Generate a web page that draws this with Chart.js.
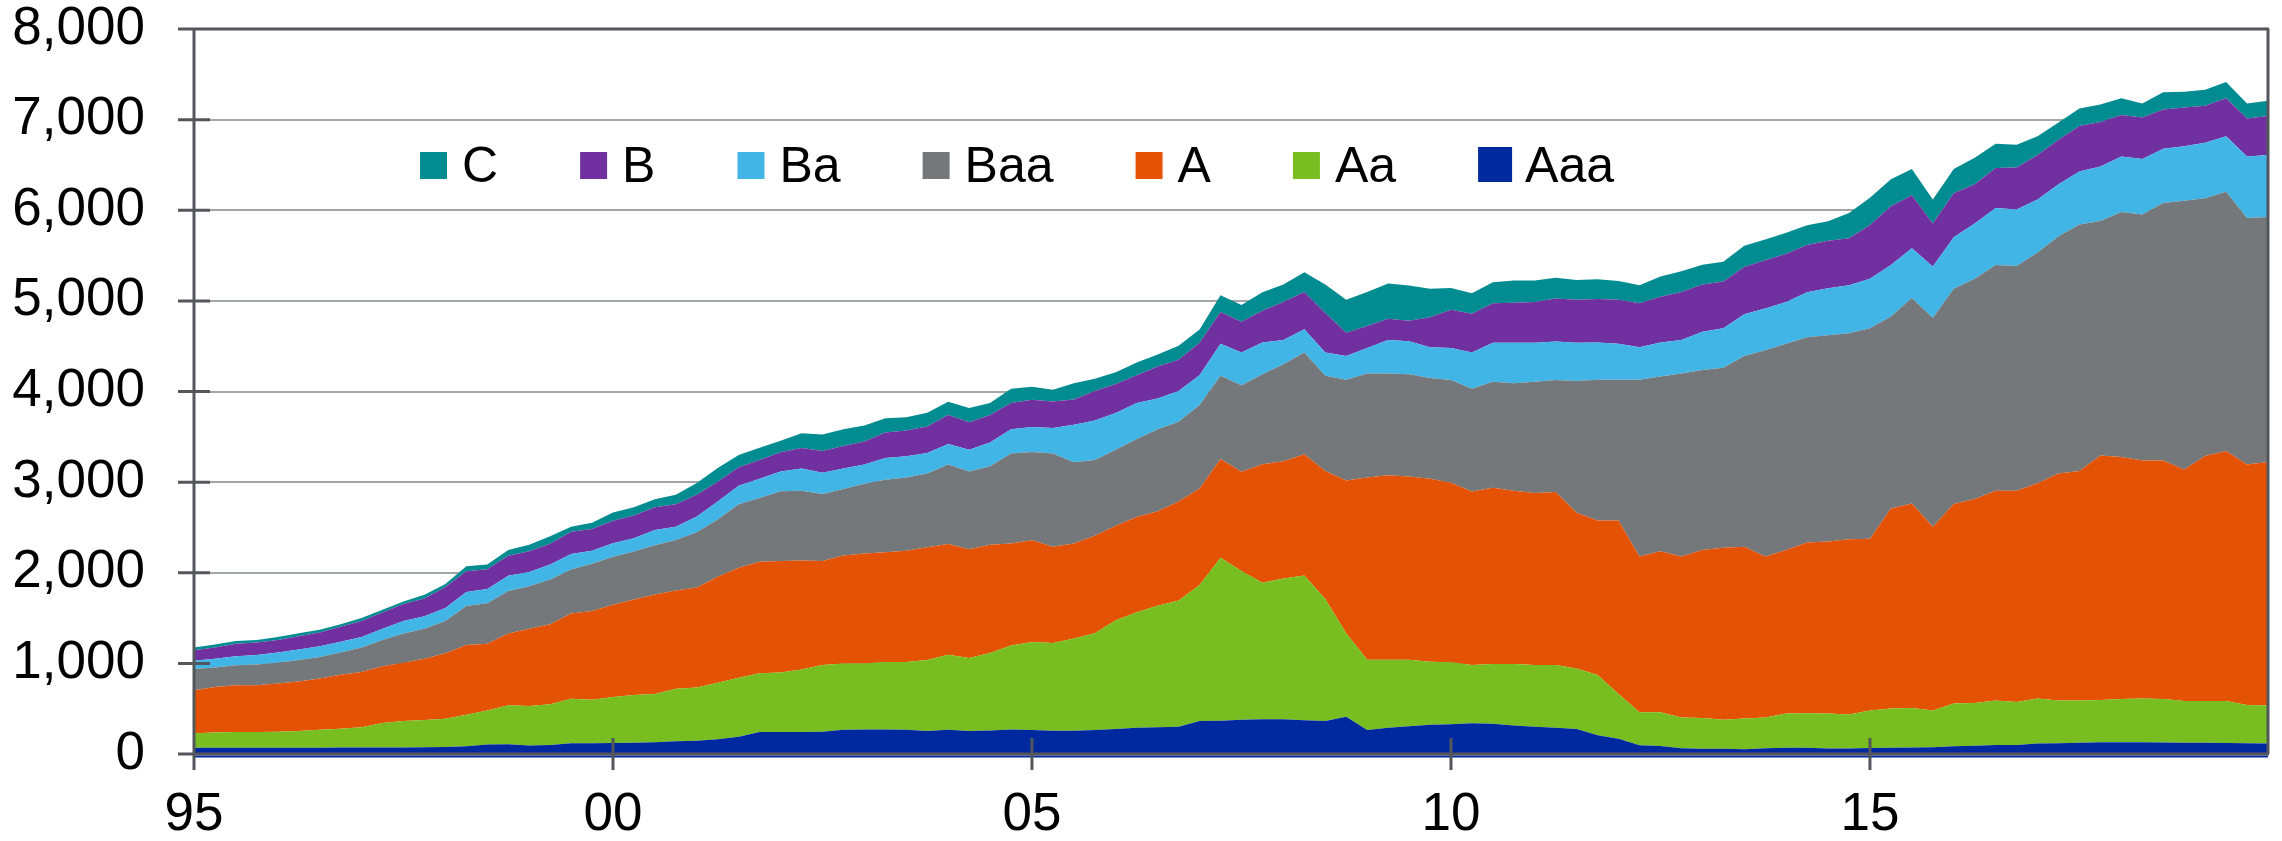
<!DOCTYPE html>
<html>
<head>
<meta charset="utf-8">
<script src="https://cdn.jsdelivr.net/npm/chart.js@4.4.1/dist/chart.umd.min.js"></script>
<style>
  html, body { margin: 0; padding: 0; background: #ffffff; }
  #wrap { width: 2282px; height: 841px; }
</style>
</head>
<body>
<div id="wrap"><canvas id="c" width="2282" height="841"></canvas></div>
<script>
// ---- categories: quarterly, 1995Q1 .. 2019Q4 ----
const quarters = [];
for (let yr = 1995; yr <= 2019; yr++) {
  for (let q = 1; q <= 4; q++) quarters.push(yr + 'Q' + q);
}
const xTickAt     = ['1995Q1', '2000Q1', '2005Q1', '2010Q1', '2015Q1'];
const xTickLabels = ['95', '00', '05', '10', '15'];
const yTickValues = [0, 1000, 2000, 3000, 4000, 5000, 6000, 7000, 8000];

// ---- series values (amount outstanding by rating) ----
const Aaa = [
  70,70,70,70,70,70,70,72,72,72,
  72,75,78,85,105,108,95,98,120,120,
  122,125,131,140,145,163,190,244,244,244,
  245,267,271,271,267,253,267,253,260,270,
  266,257,257,266,276,291,295,300,363,368,
  378,383,383,373,363,412,266,291,305,324,
  329,339,334,315,300,291,276,208,169,97,
  87,63,58,58,53,63,68,68,60,60,
  65,70,72,75,85,90,100,100,115,120,
  125,130,130,130,128,125,125,122,118,115
];
const Aa = [
  159,168,172,172,176,184,197,207,224,270,
  291,300,310,348,374,430,434,452,490,480,
  507,527,530,579,588,624,652,647,656,688,
  737,733,729,743,747,783,828,806,854,926,
  969,968,1017,1066,1201,1273,1342,1395,1501,1797,
  1641,1506,1554,1598,1346,920,775,750,736,693,
  683,644,659,678,683,692,668,664,494,363,
  373,339,339,320,339,339,378,382,388,375,
  414,432,435,404,472,473,491,474,498,471,
  466,466,478,483,480,460,460,463,423,420
];
const A = [
  475,500,516,516,533,546,566,596,608,625,
  645,675,725,771,738,791,854,883,939,979,
  1018,1054,1099,1086,1104,1168,1212,1231,1231,1204,
  1149,1190,1213,1212,1230,1245,1222,1199,1194,1128,
  1123,1061,1050,1075,1041,1051,1041,1090,1066,1089,
  1095,1307,1293,1337,1414,1685,2010,2034,2020,2019,
  1981,1913,1946,1913,1898,1908,1719,1704,1913,1719,
  1777,1777,1855,1898,1894,1777,1806,1884,1896,1934,
  1896,2207,2258,2029,2202,2252,2313,2330,2375,2503,
  2531,2698,2670,2626,2631,2553,2704,2759,2653,2687
];
const Baa = [
  234,216,221,230,229,238,238,246,271,291,
  321,333,354,429,446,471,467,492,486,521,
  529,529,543,557,611,633,702,702,769,769,
  738,733,769,801,806,814,878,860,866,993,
  974,1031,896,838,838,862,906,881,920,920,
  954,993,1070,1123,1051,1114,1148,1124,1128,1114,
  1133,1133,1168,1186,1226,1235,1453,1555,1555,1952,
  1928,2020,1985,1986,2106,2276,2276,2266,2276,2274,
  2324,2118,2268,2302,2375,2430,2492,2481,2547,2619,
  2720,2587,2703,2714,2842,2966,2843,2860,2720,2703
];
const Ba = [
  91,96,100,104,113,116,117,117,117,125,
  138,138,145,155,158,167,158,167,173,144,
  150,145,168,145,172,199,203,212,218,244,
  235,226,213,240,235,226,226,239,262,267,
  276,281,412,435,407,397,339,339,329,354,
  363,353,267,257,257,261,280,368,366,339,
  353,402,431,446,431,426,422,411,397,358,
  377,368,422,435,460,460,460,494,518,530,
  546,569,547,569,568,608,630,624,585,575,
  585,602,613,613,597,602,613,613,680,686
];
const B = [
  117,125,138,137,137,146,154,166,175,179,
  187,196,230,229,217,221,230,229,245,240,
  249,253,253,249,240,218,204,208,212,227,
  240,249,253,281,285,294,321,304,304,290,
  300,291,281,325,319,305,353,344,359,349,
  339,349,421,411,436,257,243,237,225,329,
  422,426,435,440,450,475,474,480,484,484,
  504,532,523,518,523,533,533,523,525,518,
  592,647,585,474,485,435,440,463,491,490,
  502,490,457,457,435,429,407,418,418,429
];
const C = [
  29,33,29,29,34,33,29,29,33,30,
  29,41,33,54,54,62,70,83,55,68,
  90,91,86,104,131,150,136,136,127,162,
  181,186,176,158,145,150,145,158,133,155,
  145,130,179,135,131,141,131,155,145,184,
  184,203,194,218,315,363,377,387,390,315,
  242,228,233,247,237,227,218,218,208,199,
  223,228,218,218,233,228,232,218,217,279,
  300,300,290,267,268,290,268,250,206,190,
  195,195,184,156,189,173,178,179,167,167
];

const seriesNames  = ['Aaa', 'Aa', 'A', 'Baa', 'Ba', 'B', 'C'];
const seriesValues = [Aaa, Aa, A, Baa, Ba, B, C];
const seriesColors = ['#0029A0', '#78BE20', '#E35205', '#75787B', '#41B6E6', '#7030A0', '#008C90'];

const FONT = '"Liberation Sans", Arial, Helvetica, sans-serif';
const AXIS_COLOR = '#53575C';

const datasets = seriesNames.map((name, k) => ({
  label: name,
  data: seriesValues[k],
  backgroundColor: seriesColors[k],
  borderWidth: 0,
  pointRadius: 0,
  pointHoverRadius: 0,
  tension: 0,
  fill: k === 0 ? 'origin' : '-1'
}));

// axis lines, borders and cross tick marks drawn over the areas
const axisPlugin = {
  id: 'axisLines',
  afterDatasetsDraw(chart) {
    const { ctx, chartArea: a, scales: { x, y } } = chart;
    ctx.save();
    // thin blue edge of the bottom area just under the axis line
    ctx.strokeStyle = seriesColors[0];
    ctx.lineWidth = 2;
    ctx.beginPath();
    ctx.moveTo(a.left, a.bottom + 2.5); ctx.lineTo(a.right, a.bottom + 2.5);
    ctx.stroke();

    ctx.strokeStyle = AXIS_COLOR;
    ctx.lineWidth = 3;
    ctx.beginPath();
    ctx.moveTo(a.left - 16, a.top); ctx.lineTo(a.right + 1, a.top);
    ctx.moveTo(a.right, a.top); ctx.lineTo(a.right, a.bottom);
    ctx.moveTo(a.left, a.top); ctx.lineTo(a.left, a.bottom + 16);
    ctx.moveTo(a.left - 16, a.bottom); ctx.lineTo(a.right + 1, a.bottom);
    y.ticks.forEach(t => {
      const py = y.getPixelForValue(t.value);
      ctx.moveTo(a.left - 16, py); ctx.lineTo(a.left + 16, py);
    });
    xTickAt.forEach(q => {
      const px = x.getPixelForValue(quarters.indexOf(q));
      ctx.moveTo(px, a.bottom - 16); ctx.lineTo(px, a.bottom + 16);
    });
    ctx.stroke();
    ctx.restore();
  }
};

// legend drawn inside the plot area, in reverse stacking order
const legendPlugin = {
  id: 'insideLegend',
  afterDraw(chart) {
    const ctx = chart.ctx;
    ctx.save();
    ctx.font = '50px ' + FONT;
    ctx.textBaseline = 'alphabetic';
    ctx.textAlign = 'left';
    let x = 420;
    const items = chart.data.datasets.slice().reverse();
    items.forEach((ds, idx) => {
      ctx.fillStyle = ds.backgroundColor;
      if (idx === items.length - 1) {
        ctx.fillRect(x, 147, 34, 35);
        ctx.fillStyle = '#000000';
        ctx.fillText(ds.label, x + 47, 182);
        x += 47 + ctx.measureText(ds.label).width + 82;
      } else {
        ctx.fillRect(x, 152, 27, 27);
        ctx.fillStyle = '#000000';
        ctx.fillText(ds.label, x + 42, 182);
        x += 42 + ctx.measureText(ds.label).width + 82;
      }
    });
    ctx.restore();
  }
};

new Chart(document.getElementById('c'), {
  type: 'line',
  data: { labels: quarters, datasets },
  options: {
    responsive: false,
    animation: false,
    devicePixelRatio: 1,
    layout: { padding: { left: 0, right: 14, top: 29, bottom: 0 } },
    plugins: {
      legend: { display: false },
      tooltip: { enabled: false },
      title: { display: false }
    },
    elements: { line: { borderWidth: 0 } },
    scales: {
      x: {
        type: 'category',
        offset: false,
        grid: { display: false, drawTicks: false },
        border: { display: false },
        ticks: {
          autoSkip: false,
          maxRotation: 0,
          minRotation: 0,
          padding: 30,
          color: '#000000',
          font: { family: FONT, size: 53 },
          callback: function (val, idx) {
            const k = xTickAt.indexOf(quarters[idx]);
            return k >= 0 ? xTickLabels[k] : '';
          }
        },
        afterFit(scale) {
          scale.height = 87;
          scale.paddingLeft = 0;
          scale.paddingRight = 0;
        }
      },
      y: {
        stacked: true,
        min: yTickValues[0],
        max: yTickValues[yTickValues.length - 1],
        grid: { color: '#A3A6A9', lineWidth: 2, drawTicks: false },
        border: { display: false },
        ticks: {
          stepSize: 1000,
          padding: 49,
          color: '#000000',
          font: { family: FONT, size: 53 },
          callback: v => Number(v).toLocaleString('en-US')
        },
        afterFit(scale) {
          scale.width = 194;
          scale.paddingTop = 0;
          scale.paddingBottom = 0;
        }
      }
    }
  },
  plugins: [axisPlugin, legendPlugin]
});
</script>
</body>
</html>
